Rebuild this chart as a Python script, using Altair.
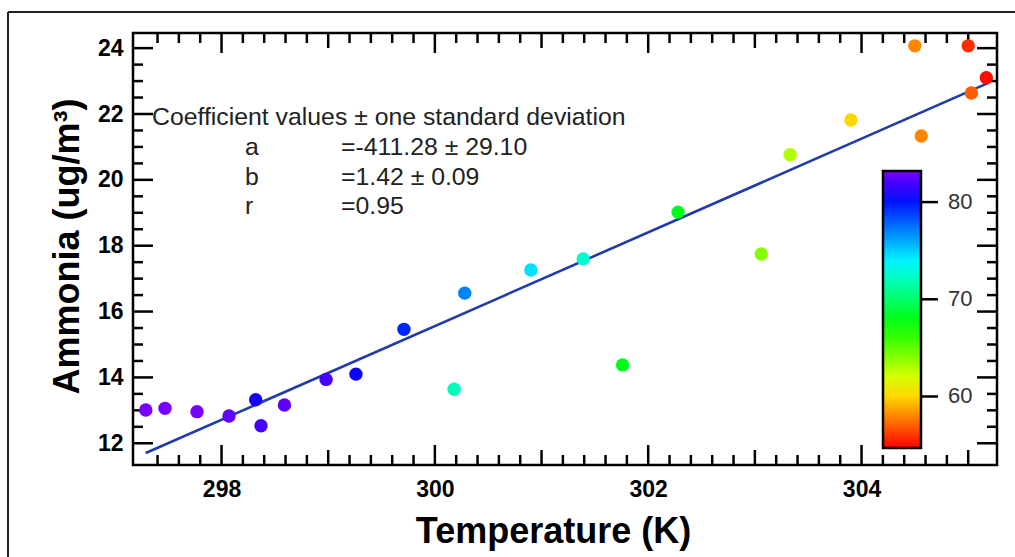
import altair as alt
import pandas as pd

# Observations: air temperature (K), ammonia (ug/m3) and relative humidity (%)
temperature = [297.29, 297.47, 297.77, 298.07, 298.32, 298.37, 298.59, 298.98, 299.26, 299.71,
               300.18, 300.28, 300.90, 301.39, 301.76, 302.28, 303.06, 303.33, 303.90, 304.50,
               304.56, 305.00, 305.03, 305.17]
ammonia = [13.01, 13.06, 12.96, 12.83, 13.32, 12.53, 13.16, 13.94, 14.10, 15.46,
           13.64, 16.56, 17.26, 17.60, 14.38, 19.02, 17.75, 20.76, 21.82, 24.07,
           21.33, 24.07, 22.64, 23.10]
humidity = [83.0, 83.0, 83.0, 82.5, 81.0, 82.0, 82.5, 82.0, 80.7, 79.5,
            72.0, 77.0, 74.5, 72.5, 68.0, 68.0, 64.0, 63.0, 60.0, 58.0,
            58.0, 55.8, 57.0, 55.0]

# Linear fit  y = a + b*x
fit_a, fit_b = -411.28, 1.4228
fit_span = [297.29, 305.19]

header = "Coefficient values \u00b1 one standard deviation"
coef_names = ["a", "b", "r"]
coef_values = ["=-411.28 \u00b1 29.10", "=1.42 \u00b1 0.09", "=0.95"]

# Axis tick positions
x_labels = [298, 300, 302, 304]
x_mid = [299, 301, 303, 305]
x_minor = [round(297.4 + 0.2 * i, 1) for i in range(39) if abs((297.4 + 0.2 * i) - round(297.4 + 0.2 * i)) > 0.05]
y_labels = [12, 14, 16, 18, 20, 22, 24]
y_minor = [v / 2 for v in range(25, 48) if v % 4 != 0]
cbar_labels = [60, 70, 80]

# Colour table (rainbow) for humidity
rh_domain = [54.7, 61.0, 67.4, 73.7, 80.5, 83.2]
rh_colors = ["#ff0000", "#ffff00", "#00ff00", "#00ffff", "#0000ff", "#8000ff"]

W, H = 864, 432
FONT = "Liberation Sans"
INK = "black"
LW = 2.5

xs = alt.Scale(domain=[297.17, 305.27], nice=False, zero=False)
ys = alt.Scale(domain=[11.34, 24.46], nice=False, zero=False)

pts = pd.DataFrame({"temperature": temperature, "ammonia": ammonia, "rh": humidity})
fit = pd.DataFrame({"temperature": fit_span, "ammonia": [fit_a + fit_b * t for t in fit_span]})

x_axis = alt.Axis(values=x_labels, format="d", ticks=False, domain=False, grid=False,
                  labelFont=FONT, labelFontWeight="bold", labelFontSize=23, labelColor=INK,
                  labelPadding=13,
                  title="Temperature (K)", titleFont=FONT, titleFontWeight="bold", titleFontSize=36,
                  titleColor=INK, titleX=420, titleY=66, titleAlign="center", titleBaseline="middle")
y_axis = alt.Axis(values=y_labels, format="d", ticks=False, domain=False, grid=False,
                  labelFont=FONT, labelFontWeight="bold", labelFontSize=23, labelColor=INK,
                  labelPadding=10,
                  title="Ammonia (ug/m\u00b3)", titleFont=FONT, titleFontWeight="bold", titleFontSize=36,
                  titleColor=INK, titleX=-66, titleY=213, titleAngle=270,
                  titleAlign="center", titleBaseline="middle")


def X(field):
    return alt.X(field, scale=xs, axis=x_axis, title="Temperature (K)")


def Y(field):
    return alt.Y(field, scale=ys, axis=y_axis, title="Ammonia (ug/m\u00b3)")


points = alt.Chart(pts).mark_circle(size=180, opacity=1).encode(
    x=X("temperature:Q"),
    y=Y("ammonia:Q"),
    color=alt.Color(
        "rh:Q",
        scale=alt.Scale(domain=rh_domain, range=rh_colors, interpolate="rgb"),
        legend=alt.Legend(orient="none", legendX=750, legendY=138, direction="vertical",
                          gradientLength=277, gradientThickness=38,
                          gradientStrokeColor=INK, gradientStrokeWidth=LW,
                          title=None, values=cbar_labels, format="d",
                          labelFont=FONT, labelFontSize=22, labelColor="#333333",
                          labelOffset=27, labelOverlap=False, padding=0, offset=0),
    ),
)

fit_line = alt.Chart(fit).mark_line(color="#1f3caa", strokeWidth=2.6).encode(
    x=X("temperature:Q"),
    y=Y("ammonia:Q"),
)


def x_ticks(vals, length):
    d = pd.DataFrame({"temperature": vals})
    bottom = alt.Chart(d).mark_rule(color=INK, strokeWidth=LW).encode(
        x=X("temperature:Q"), y=alt.value(H), y2=alt.value(H - length))
    top = alt.Chart(d).mark_rule(color=INK, strokeWidth=LW).encode(
        x=X("temperature:Q"), y=alt.value(0), y2=alt.value(length))
    return [bottom, top]


def y_ticks(vals, length):
    d = pd.DataFrame({"ammonia": vals})
    left = alt.Chart(d).mark_rule(color=INK, strokeWidth=LW).encode(
        y=Y("ammonia:Q"), x=alt.value(0), x2=alt.value(length))
    right = alt.Chart(d).mark_rule(color=INK, strokeWidth=LW).encode(
        y=Y("ammonia:Q"), x=alt.value(W), x2=alt.value(W - length))
    return [left, right]


tick_layers = (x_ticks(x_labels, 20) + x_ticks(x_mid, 15) + x_ticks(x_minor, 10)
               + y_ticks(y_labels, 20) + y_ticks(y_minor, 10))

one = alt.Data(values=[{}])
txt = dict(font=FONT, fontSize=24.8, color="#222222", align="left", baseline="middle")
notes = [alt.Chart(one).mark_text(text=header, **txt).encode(x=alt.value(19), y=alt.value(85))]
for i, (name, val) in enumerate(zip(coef_names, coef_values)):
    yy = 115 + 29.5 * i
    notes.append(alt.Chart(one).mark_text(text=name, **txt).encode(x=alt.value(112), y=alt.value(yy)))
    notes.append(alt.Chart(one).mark_text(text=val, **txt).encode(x=alt.value(208), y=alt.value(yy)))

# Outer figure frame
frame = [
    alt.Chart(one).mark_rule(color="#222222", strokeWidth=2).encode(
        x=alt.value(-125), x2=alt.value(-125), y=alt.value(-21), y2=alt.value(540)),
    alt.Chart(one).mark_rule(color="#222222", strokeWidth=2).encode(
        x=alt.value(-125), x2=alt.value(900), y=alt.value(-21), y2=alt.value(-21)),
]

main = alt.layer(*tick_layers, fit_line, points, *notes, *frame)

# Tick marks beside the colour bar, on a scale matching the gradient
cbar_ticks = alt.Chart(pd.DataFrame({"rh": cbar_labels})).mark_rule(color=INK, strokeWidth=LW).encode(
    y=alt.Y("rh:Q", scale=alt.Scale(domain=[54.7, 83.2], range=[415, 138], nice=False, zero=False),
            axis=None),
    x=alt.value(788), x2=alt.value(805),
)

chart = alt.layer(main, cbar_ticks).resolve_scale(y="independent").properties(
    width=W, height=H,
    autosize=alt.AutoSizeParams(type="none"),
    padding={"left": 133, "top": 33, "right": 18, "bottom": 92},
    background="white",
).configure_view(stroke=INK, strokeWidth=LW)

chart.save("out.html", embed_options={"renderer": "svg", "actions": False})
